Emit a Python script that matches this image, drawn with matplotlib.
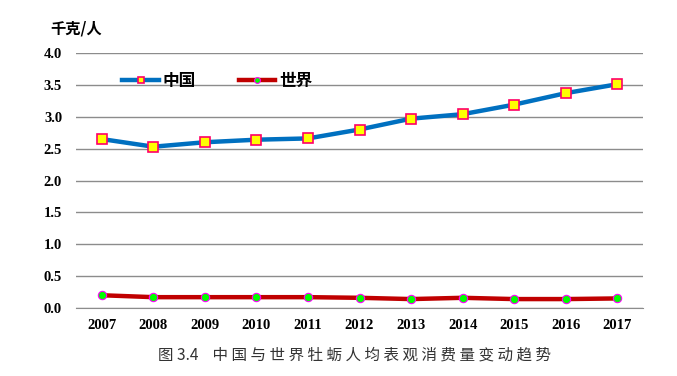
import matplotlib

matplotlib.use("Agg")
import matplotlib.pyplot as plt
import numpy as np

years = ["2007", "2008", "2009", "2010", "2011", "2012", "2013", "2014", "2015", "2016", "2017"]
china = [2.65, 2.53, 2.60, 2.64, 2.66, 2.80, 2.97, 3.04, 3.19, 3.37, 3.51]
world = [0.20, 0.17, 0.17, 0.17, 0.17, 0.16, 0.14, 0.16, 0.14, 0.14, 0.15]
y_ticks = [0.0, 0.5, 1.0, 1.5, 2.0, 2.5, 3.0, 3.5, 4.0]

cjk = ["Noto Sans CJK SC", "DejaVu Sans"]

fig = plt.figure(figsize=(6.77, 3.76), dpi=100)
ax = fig.add_axes([76 / 677, 1 - 308 / 376, (643 - 76) / 677, (308 - 53) / 376])

x = np.arange(len(years))
ax.plot(x, china, color="#0070c0", linewidth=3.2, marker="s", markersize=7,
        markerfacecolor="#ffff00", markeredgecolor="#ff0066", markeredgewidth=1.2,
        label="中国", zorder=3)
ax.plot(x, world, color="#c00000", linewidth=3.2, marker="o", markersize=6,
        markerfacecolor="#00ff00", markeredgecolor="#ff00ff", markeredgewidth=0.8,
        label="世界", zorder=3)

ax.set_xlim(-0.5, len(years) - 0.5)
ax.set_ylim(0, 4.0)
ax.set_yticks(y_ticks)
ax.set_yticklabels([f"{v:.1f}" for v in y_ticks], fontfamily="Liberation Serif",
                   fontweight="bold", fontsize=10.5)
ax.set_xticks(x)
ax.set_xticklabels(years, fontfamily="Liberation Serif", fontweight="bold", fontsize=10.5)
ax.tick_params(length=0)
ax.tick_params(axis="x", pad=8)
ax.tick_params(axis="y", pad=10)

ax.yaxis.grid(True, color="#8c8c8c", linewidth=1.0)
ax.set_axisbelow(True)
for side in ("top", "right", "left"):
    ax.spines[side].set_visible(False)
ax.spines["bottom"].set_color("#8c8c8c")

ax.legend(loc="upper left", bbox_to_anchor=(0.055, 0.985), ncol=2, frameon=False,
          prop={"family": cjk, "weight": "bold", "size": 12},
          handlelength=2.2, columnspacing=2.6, handletextpad=0.2, markerscale=0.7)

fig.text(50 / 677, 1 - 28 / 376, "千克/人", family=cjk, fontweight="bold", fontsize=11,
         va="center", ha="left")
fig.text(355 / 677, 1 - 355 / 376,
         "图 3.4    中 国 与 世 界 牡 蛎 人 均 表 观 消 费 量 变 动 趋 势",
         family=cjk, fontsize=11.2, va="center", ha="center", color="#333333")

fig.savefig("out.png", dpi=100)
